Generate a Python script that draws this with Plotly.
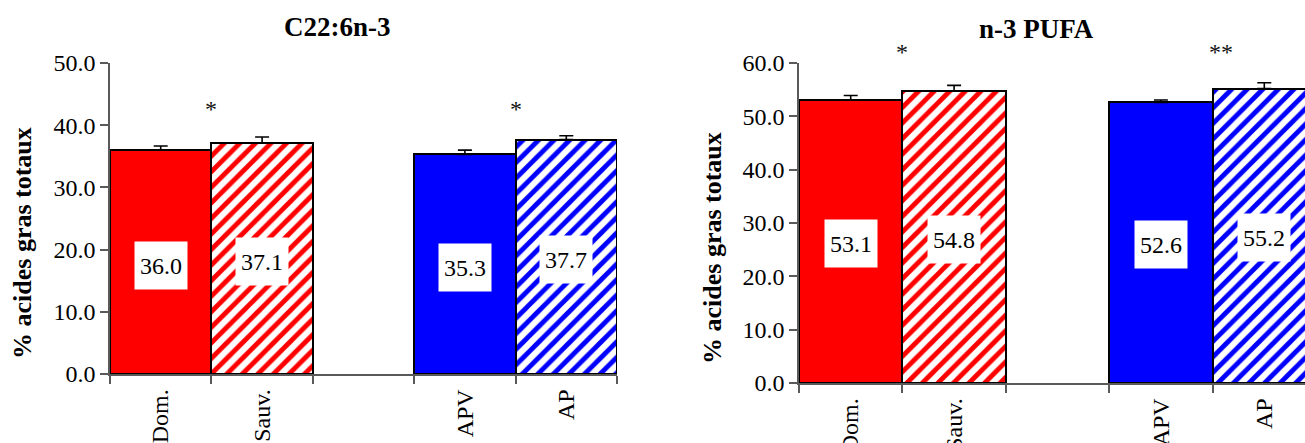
import plotly.graph_objects as go

# ---- data ----
categories = ["Dom.", "Sauv.", " ", "APV", "AP"]
dha_values = [36.0, 37.1, None, 35.3, 37.7]
dha_errors = [0.65, 1.0, None, 0.7, 0.6]
pufa_values = [53.1, 54.8, None, 52.6, 55.2]
pufa_errors = [0.8, 1.0, None, 0.45, 1.1]
bar_colors = ["#FF0000", "#FF0000", "#FF0000", "#0000FF", "#0000FF"]
bar_patterns = ["", "/", "", "", "/"]
dha_stars = [(0.5, "*"), (3.5, "*")]
pufa_stars = [(0.5, "*"), (3.58, "**")]
titles = ["C22:6n-3", "n-3 PUFA"]
y_title = "% acides gras totaux"

FONT = "Liberation Serif"
W, H = 1305, 443


def px_x(p):
    return p / W


def px_y(p):
    return 1 - p / H


fig = go.Figure()


def add_bars(values, errors, xa, ya):
    fig.add_trace(go.Bar(
        x=categories, y=values, xaxis=xa, yaxis=ya,
        marker=dict(color=bar_colors,
                    line=dict(color="black", width=2),
                    pattern=dict(shape=bar_patterns, bgcolor="white",
                                 fgopacity=1, size=11, solidity=0.55)),
        error_y=dict(type="data", array=errors,
                     arrayminus=[0 for _ in errors], symmetric=False,
                     color="black", thickness=1.6, width=7),
        showlegend=False, hoverinfo="skip",
    ))


add_bars(dha_values, dha_errors, "x", "y")
add_bars(pufa_values, pufa_errors, "x2", "y2")

axis_common = dict(showline=True, linecolor="#5a5a5a", linewidth=1.5,
                   ticks="outside", ticklen=8, tickcolor="#5a5a5a",
                   tickwidth=1.5, showgrid=False, zeroline=False,
                   automargin=False,
                   tickfont=dict(family=FONT, size=24, color="black"))

# plot-area geometry in pixels
L_X0, L_X1, L_Y0, L_Y1 = 110, 617, 63, 374
R_X0, R_Y0, R_Y1 = 799, 63, 383
R_CAT_W = 103.4

fig.update_layout(
    width=W, height=H, margin=dict(l=0, r=0, t=0, b=0, pad=0),
    plot_bgcolor="white", paper_bgcolor="white", bargap=0,
    xaxis=dict(domain=[px_x(L_X0), px_x(L_X1)], type="category",
               categoryorder="array", categoryarray=categories,
               range=[-0.5, 4.5], tickson="boundaries", tickangle=-90,
               ticklabelstandoff=4, anchor="y", **axis_common),
    yaxis=dict(domain=[px_y(L_Y1), px_y(L_Y0)], range=[0, 50], dtick=10,
               tickformat=".1f", anchor="x", **axis_common),
    xaxis2=dict(domain=[px_x(R_X0), 1.0], type="category",
                categoryorder="array", categoryarray=categories,
                range=[-0.5, -0.5 + (W - R_X0) / R_CAT_W],
                tickson="boundaries", tickangle=-90,
                ticklabelstandoff=4, anchor="y2", **axis_common),
    yaxis2=dict(domain=[px_y(R_Y1), px_y(R_Y0)], range=[0, 60], dtick=10,
                tickformat=".1f", anchor="x2", **axis_common),
)

annotations = []


def value_labels(values, xref, yref, offset):
    for c, v in zip(categories, values):
        if v is None:
            continue
        annotations.append(dict(
            x=c, y=v / 2 - offset, xref=xref, yref=yref, text=f"{v:.1f}",
            showarrow=False, bgcolor="white", width=50, height=45,
            xanchor="center", yanchor="middle",
            font=dict(family=FONT, size=24, color="black")))


value_labels(dha_values, "x", "y", 0.5)
value_labels(pufa_values, "x2", "y2", 0.4)

star_font = dict(family=FONT, size=24, color="#111111")
for xs, t in dha_stars:
    annotations.append(dict(x=xs, y=42.6, xref="x", yref="y", text=t,
                            showarrow=False, xanchor="center",
                            yanchor="middle", font=star_font))
for xs, t in pufa_stars:
    xp = R_X0 + (xs + 0.5) * R_CAT_W
    annotations.append(dict(x=px_x(xp), y=px_y(52), xref="paper",
                            yref="paper", text=t, showarrow=False,
                            xanchor="center", yanchor="middle",
                            font=star_font))

title_font = dict(family=FONT, size=27, color="black")
axis_title_font = dict(family=FONT, size=26, color="black")
# chart titles
annotations.append(dict(x=px_x(337), y=px_y(27), xref="paper", yref="paper",
                        text=f"<b>{titles[0]}</b>", showarrow=False,
                        xanchor="center", yanchor="middle", font=title_font))
annotations.append(dict(x=px_x(1036), y=px_y(29), xref="paper", yref="paper",
                        text=f"<b>{titles[1]}</b>", showarrow=False,
                        xanchor="center", yanchor="middle", font=title_font))

# y axis titles
annotations.append(dict(x=px_x(22), y=px_y(243), xref="paper", yref="paper",
                        text=f"<b>{y_title}</b>", showarrow=False,
                        textangle=-90, xanchor="center", yanchor="middle",
                        font=axis_title_font))
annotations.append(dict(x=px_x(712), y=px_y(248), xref="paper", yref="paper",
                        text=f"<b>{y_title}</b>", showarrow=False,
                        textangle=-90, xanchor="center", yanchor="middle",
                        font=axis_title_font))

fig.update_layout(annotations=annotations)

fig.write_html("out.html",
               config={"displayModeBar": False},
               post_script="document.body.style.margin='0px';")
